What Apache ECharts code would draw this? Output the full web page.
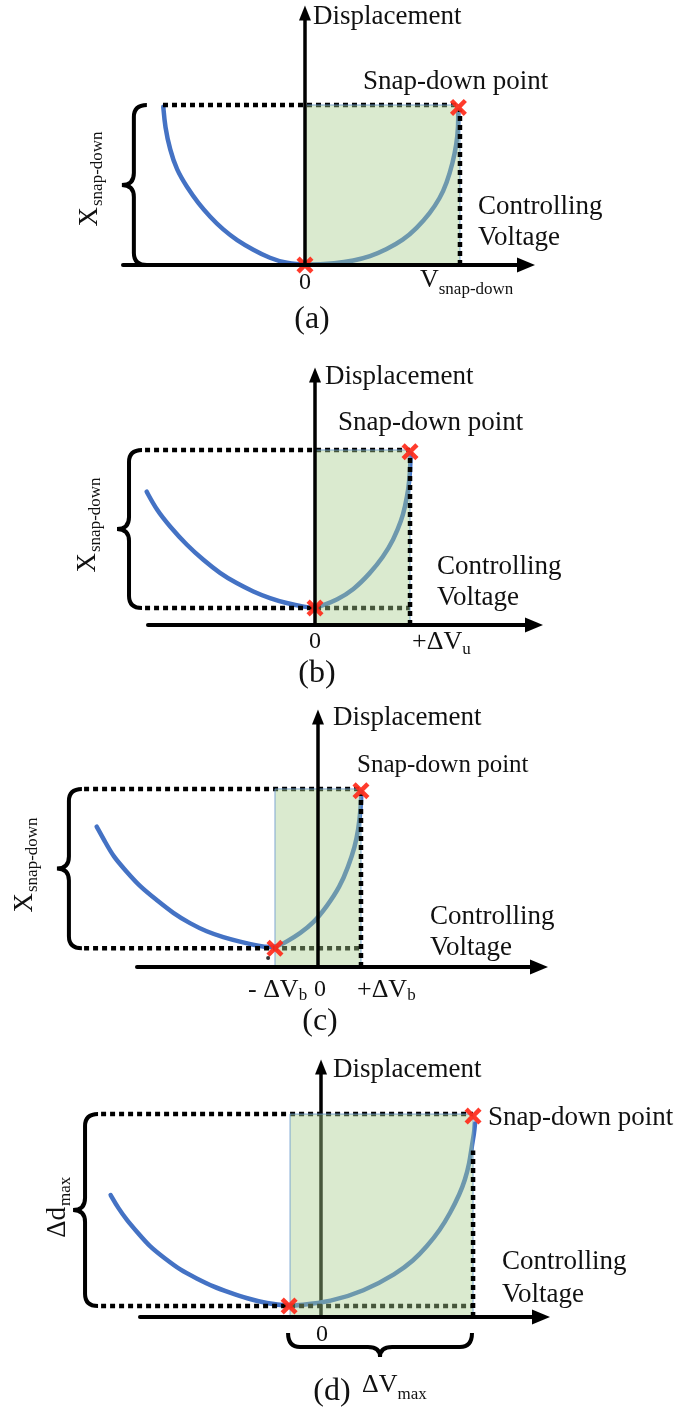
<!DOCTYPE html>
<html><head><meta charset="utf-8">
<script src="https://cdn.jsdelivr.net/npm/echarts@6/dist/echarts.min.js"></script>
<style>html,body{margin:0;padding:0;background:#fff}#c{width:688px;height:1416px}</style>
</head><body><div id="c"></div>
<script>
// ===== DATA (each point = [controlling voltage, displacement], normalized per panel) =====
// Panel (a): voltage unit = V_snap-down, displacement unit = X_snap-down
const aCurve = [[-0.914,0.989],[-0.903,0.864],[-0.871,0.719],[-0.828,0.594],[-0.763,0.489],[-0.688,0.385],[-0.613,0.302],[-0.527,0.219],[-0.441,0.156],[-0.333,0.094],[-0.226,0.042],[-0.118,0.010],[0,0],
  [0.204,0.010],[0.312,0.027],[0.419,0.052],[0.527,0.098],[0.634,0.156],[0.720,0.229],[0.806,0.323],[0.871,0.417],[0.914,0.511],[0.953,0.636],[0.979,0.761],[0.989,0.865],[0.989,0.969]];
const aMarks = [[0,0],[0.99,0.985]];
const aWindow = [0, 1, 0, 1];                 // [vLow, vHigh, dLow, dHigh]
const aDotsH = [[-0.916,1,1,1]];              // [v0,d0,v1,d1]
const aDotsV = [[1,0,1,0.97]];
const aBrace = [-1.02, 1, 0];                 // [v, dTop, dBottom]
const aXRange = [-1.174, 1.426];
const aYMax = 1.575;
const aTickValues = [0, 1];
const aTickLabels = [['0',''], ['V','snap-down']];

// Panel (b): voltage unit = ΔV_u
const bCurve = [[-1.772,0.762],[-1.667,0.657],[-1.526,0.562],[-1.351,0.457],[-1.175,0.371],[-1.0,0.295],[-0.825,0.238],[-0.649,0.190],[-0.474,0.152],[-0.298,0.124],[-0.123,0.105],[0,0.095],
  [0.088,0.114],[0.228,0.143],[0.404,0.2],[0.579,0.295],[0.719,0.39],[0.825,0.486],[0.912,0.6],[0.947,0.676],[0.982,0.771],[1.0,0.867],[1.007,0.981]];
const bMarks = [[0,0.097],[1.0,0.99]];
const bWindow = [0, 1, 0, 1];
const bDotsH = [[-1.789,1,1,1],[-1.789,0.097,1,0.097]];
const bDotsV = [[1,0,1,0.97]];
const bBrace = [-1.821, 1, 0.097];
const bXRange = [-1.758, 2.305];
const bYMax = 1.4286;
const bTickValues = [0, 1];
const bTickLabels = [['0',''], ['+ΔV','u']];

// Panel (c): voltage unit = ΔV_b
const cCurve = [[-5.147,0.788],[-4.953,0.704],[-4.760,0.620],[-4.449,0.535],[-4.140,0.451],[-3.751,0.376],[-3.364,0.301],[-2.977,0.245],[-2.588,0.198],[-2.202,0.167],[-1.814,0.142],[-1.426,0.120],[-1.0,0.105],
  [-0.729,0.142],[-0.419,0.189],[-0.109,0.246],[0.202,0.339],[0.512,0.451],[0.705,0.564],[0.860,0.676],[0.937,0.770],[0.993,0.882],[1.01,0.985]];
const cMarks = [[-1,0.105],[1.0,0.99]];
const cWindow = [-1, 1, 0, 1];
const cDotsH = [[-5.44,1,1,1],[-5.44,0.105,1,0.105]];
const cDotsV = [[1,0,1,0.97]];
const cBrace = [-5.49, 1, 0.105];
const cDot = [[-1.16, 0.05]];
const cXRange = [-4.209, 5.14];
const cYMax = 1.404;
const cTickValues = [-1, 0, 1];
const cTickLabels = [['- ΔV','b'], ['0',''], ['+ΔV','b']];

// Panel (d): voltage unit = right end of ΔV_max window
const dCurve = [[-1.384,0.601],[-1.333,0.535],[-1.278,0.478],[-1.202,0.412],[-1.125,0.345],[-1.026,0.288],[-0.928,0.232],[-0.818,0.190],[-0.708,0.149],[-0.599,0.120],[-0.489,0.092],[-0.357,0.067],[-0.215,0.054],
  [-0.138,0.059],[0.059,0.075],[0.278,0.125],[0.498,0.215],[0.607,0.277],[0.695,0.346],[0.783,0.429],[0.849,0.511],[0.914,0.609],[0.947,0.675],[0.976,0.757],[0.991,0.839],[1.007,0.905],[1.013,0.954]];
const dMarks = [[-0.21,0.054],[1.0,0.99]];
const dWindow = [-0.204, 1, 0, 1];
const dDotsH = [[-1.447,1,1,1],[-1.447,0.054,1,0.054]];
const dDotsV = [[1,0,1,0.82]];
const dBrace = [-1.467, 1, 0.054];
const dBraceH = [-0.217, 0.993, -0.079];      // [v0, v1, d]
const dXRange = [-1.191, 1.447];
const dYMax = 1.232;
const dTickValues = [0];
const dTickLabels = [['0','']];

const axisTitle = 'Displacement';
const voltTitle = ['Controlling', 'Voltage'];
const snapTitle = 'Snap-down point';
const panelLetters = ['(a)', '(b)', '(c)', '(d)'];
const braceTitles = [['X','snap-down'], ['X','snap-down'], ['X','snap-down'], ['Δd','max']];
const dBraceHTitle = ['ΔV', 'max'];

// ===== LAYOUT / STYLE =====
const FONT = '"Liberation Serif","Times New Roman",serif';
const BLUE = '#4472c4', RED = '#ff2a1a', INK = '#111';
const XPATH = 'path://M0,3 L3,0 L8,5 L13,0 L16,3 L11,8 L16,13 L13,16 L8,11 L3,16 L0,13 L5,8 Z';
const panels = [
  {curve:aCurve, marks:aMarks, win:aWindow, dotsH:aDotsH, dotsV:aDotsV, brace:aBrace, xr:aXRange, ymax:aYMax,
   tv:aTickValues, tl:aTickLabels, grid:{left:123,top:13,width:403,height:252}, yTop:true,
   disp:[313,17], snap:[363,82,27], volt:[478,207,238], letter:[312,320], rot:[90,207],
   tick:[{a:'center',dx:0,y:283},{a:'left',dx:-40,y:280,sd:10}]},
  {curve:bCurve, marks:bMarks, win:bWindow, dotsH:bDotsH, dotsV:bDotsV, brace:bBrace, xr:bXRange, ymax:bYMax,
   tv:bTickValues, tl:bTickLabels, grid:{left:148,top:375,width:386,height:250}, yTop:true,
   disp:[325,377], snap:[338,423,27], volt:[437,567,598], letter:[317,674], rot:[88,553],
   tick:[{a:'center',dx:0,y:642},{a:'left',dx:2,y:642,sd:8}]},
  {curve:cCurve, marks:cMarks, win:cWindow, dotsH:cDotsH, dotsV:cDotsV, brace:cBrace, xr:cXRange, ymax:cYMax,
   tv:cTickValues, tl:cTickLabels, grid:{left:137,top:717,width:402,height:250}, yTop:true,
   disp:[333,718], snap:[357,765,25], volt:[430,917,948], letter:[320,1022], rot:[25,893],
   tick:[{a:'left',dx:-27,y:990,sd:6},{a:'center',dx:2,y:990},{a:'left',dx:-4,y:990,sd:6}]},
  {curve:dCurve, marks:dMarks, win:dWindow, dotsH:dDotsH, dotsV:dDotsV, brace:dBrace, xr:dXRange, ymax:dYMax,
   tv:dTickValues, tl:dTickLabels, grid:{left:140,top:1067,width:401,height:250}, yTop:false,
   disp:[333,1070], snap:[488,1118,27], volt:[502,1262,1295], letter:[332,1392], rot:[58,1207],
   tick:[{a:'center',dx:1,y:1335}]}
];

// Curve drawn as a clamped cubic B-spline through the read points (smooths reading noise)
function bsplinePath(px) {
  const n = px.length;
  const q = [px[0], px[0]].concat(px, [px[n - 1], px[n - 1]]);
  let d = `M${px[0][0]},${px[0][1]}`;
  for (let i = 1; i < q.length - 2; i++) {
    const b = q[i], c = q[i + 1], e = q[i + 2];
    const c1 = [(2 * b[0] + c[0]) / 3, (2 * b[1] + c[1]) / 3];
    const c2 = [(b[0] + 2 * c[0]) / 3, (b[1] + 2 * c[1]) / 3];
    const end = [(b[0] + 4 * c[0] + e[0]) / 6, (b[1] + 4 * c[1] + e[1]) / 6];
    d += ` C${c1[0]},${c1[1]} ${c2[0]},${c2[1]} ${end[0]},${end[1]}`;
  }
  return d;
}
function curveItem(pts) {
  return function (params, api) {
    if (params.dataIndex !== 0) return null;
    return {type:'path', shape:{pathData:bsplinePath(pts.map(p => api.coord(p)))},
      style:{stroke:BLUE, lineWidth:4.5, fill:'none', lineCap:'round', lineJoin:'round'}};
  };
}
function dotSeg(params, api) {
  const p0 = api.coord([api.value(0), api.value(1)]);
  const p1 = api.coord([api.value(2), api.value(3)]);
  return {type:'line', shape:{x1:p0[0],y1:p0[1],x2:p1[0],y2:p1[1]},
    style:{stroke:'#000', lineWidth:4.5, lineDash:[5,4], lineCap:'butt', fill:'none'}};
}
function rectItem(params, api) {
  const p0 = api.coord([api.value(0), api.value(3)]);
  const p1 = api.coord([api.value(1), api.value(2)]);
  return {type:'rect', shape:{x:p0[0], y:p0[1], width:p1[0]-p0[0], height:p1[1]-p0[1]},
    style:{fill:'rgba(168,206,140,0.42)', stroke:'rgba(100,150,205,0.8)', lineWidth:1}};
}
function braceV(params, api) {
  const t = api.coord([api.value(0), api.value(1)]);
  const b = api.coord([api.value(0), api.value(2)]);
  const xr = t[0], y0 = t[1], y1 = b[1], xs = xr - 13, xt = xr - 25, r = 12, ym = (y0 + y1) / 2;
  const d = `M${xr},${y0} Q${xs},${y0} ${xs},${y0+r} L${xs},${ym-r} Q${xs},${ym} ${xt},${ym} Q${xs},${ym} ${xs},${ym+r} L${xs},${y1-r} Q${xs},${y1} ${xr},${y1}`;
  return {type:'path', shape:{pathData:d}, style:{fill:'none', stroke:'#000', lineWidth:4}};
}
function braceH(params, api) {
  const l = api.coord([api.value(0), api.value(2)]);
  const rr = api.coord([api.value(1), api.value(2)]);
  const x0 = l[0], x1 = rr[0], y0 = l[1], ys = y0 + 14, yt = y0 + 24, r = 12, xm = (x0 + x1) / 2;
  const d = `M${x0},${y0} Q${x0},${ys} ${x0+r},${ys} L${xm-r},${ys} Q${xm},${ys} ${xm},${yt} Q${xm},${ys} ${xm+r},${ys} L${x1-r},${ys} Q${x1},${ys} ${x1},${y0}`;
  return {type:'path', shape:{pathData:d}, style:{fill:'none', stroke:'#000', lineWidth:4}};
}

const grids = [], xAxes = [], yAxes = [], series = [];
panels.forEach((p, i) => {
  grids.push(Object.assign({show:false, containLabel:false}, p.grid));
  xAxes.push({gridIndex:i, type:'value', min:p.xr[0], max:p.xr[1], z:6,
    axisLine:{show:true, onZero:true, symbol:['none','triangle'], symbolSize:[15,18], lineStyle:{color:'#000', width:4}},
    axisTick:{show:false}, axisLabel:{show:false}, splitLine:{show:false}});
  yAxes.push({gridIndex:i, type:'value', min:0, max:p.ymax, z:p.yTop ? 6 : 1,
    axisLine:{show:true, onZero:true, symbol:['none','triangle'], symbolSize:[12,15], lineStyle:{color:'#000', width:3.5}},
    axisTick:{show:false}, axisLabel:{show:false}, splitLine:{show:false}});
  const ax = {xAxisIndex:i, yAxisIndex:i, silent:true};
  series.push(Object.assign({type:'custom', data:p.curve, renderItem:curveItem(p.curve), z:2}, ax));
  series.push(Object.assign({type:'custom', data:p.dotsH, renderItem:dotSeg, z:2}, ax));
  series.push(Object.assign({type:'custom', data:[p.win], renderItem:rectItem, z:4}, ax));
  series.push(Object.assign({type:'scatter', data:p.marks, symbol:XPATH, symbolSize:17, clip:false,
    itemStyle:{color:RED, opacity:0.92}, z:5}, ax));
  series.push(Object.assign({type:'custom', data:p.dotsV, renderItem:dotSeg, z:5}, ax));
  series.push(Object.assign({type:'custom', data:[p.brace], renderItem:braceV, z:5}, ax));
});
series.push({type:'scatter', xAxisIndex:2, yAxisIndex:2, data:cDot, symbolSize:4, itemStyle:{color:'#000'}, z:5, silent:true, clip:false});
series.push({type:'custom', xAxisIndex:3, yAxisIndex:3, data:[dBraceH], renderItem:braceH, z:5, silent:true});

const chart = echarts.init(document.getElementById('c'), null, {renderer:'canvas'});
chart.setOption({animation:false, backgroundColor:'#fff', grid:grids, xAxis:xAxes, yAxis:yAxes, series:series});

// ===== TEXT =====
const mctx = document.createElement('canvas').getContext('2d');
function tw(t, s) { mctx.font = s + 'px ' + FONT; return mctx.measureText(t).width; }
function txt(t, x, y, s, align) {
  return {type:'text', x:x, y:y, z:20, silent:true,
    style:{text:t, fontSize:s, fontFamily:FONT, fill:INK, align:align || 'left', verticalAlign:'middle'}};
}
function subLabel(main, sub, x, y, align, ms, ss, sd) {
  const w = tw(main, ms) + (sub ? tw(sub, ss) : 0);
  const sx = align === 'center' ? x - w / 2 : x;
  const out = [txt(main, sx, y, ms, 'left')];
  if (sub) out.push(txt(sub, sx + tw(main, ms), y + sd, ss, 'left'));
  return out;
}
const MAIN = 27, SUB = 17;
const g = [];
panels.forEach((p, i) => {
  g.push(txt(axisTitle, p.disp[0], p.disp[1], MAIN));
  g.push(txt(snapTitle, p.snap[0], p.snap[1], p.snap[2]));
  g.push(txt(voltTitle[0], p.volt[0], p.volt[1], MAIN));
  g.push(txt(voltTitle[1], p.volt[0], p.volt[2], MAIN));
  g.push(txt(panelLetters[i], p.letter[0], p.letter[1], 32, 'center'));
  const bt = braceTitles[i];
  g.push({type:'group', x:p.rot[0], y:p.rot[1], rotation:Math.PI/2, z:20, silent:true, children:[
    txt(bt[0], 0, 0, MAIN, 'right'),
    txt(bt[1], 1, 8, SUB, 'left')
  ]});
  p.tv.forEach((v, k) => {
    const px = chart.convertToPixel({gridIndex:i}, [v, 0]);
    const L = p.tick[k];
    const main = p.tl[k][0], sub = p.tl[k][1];
    const size = main === '0' ? 24 : 26;
    subLabel(main, sub, px[0] + L.dx, L.y, L.a, size, SUB, L.sd || 8).forEach(e => g.push(e));
  });
});
subLabel(dBraceHTitle[0], dBraceHTitle[1], 362, 1385, 'left', 26, SUB, 10).forEach(e => g.push(e));
chart.setOption({graphic:g});
</script></body></html>
